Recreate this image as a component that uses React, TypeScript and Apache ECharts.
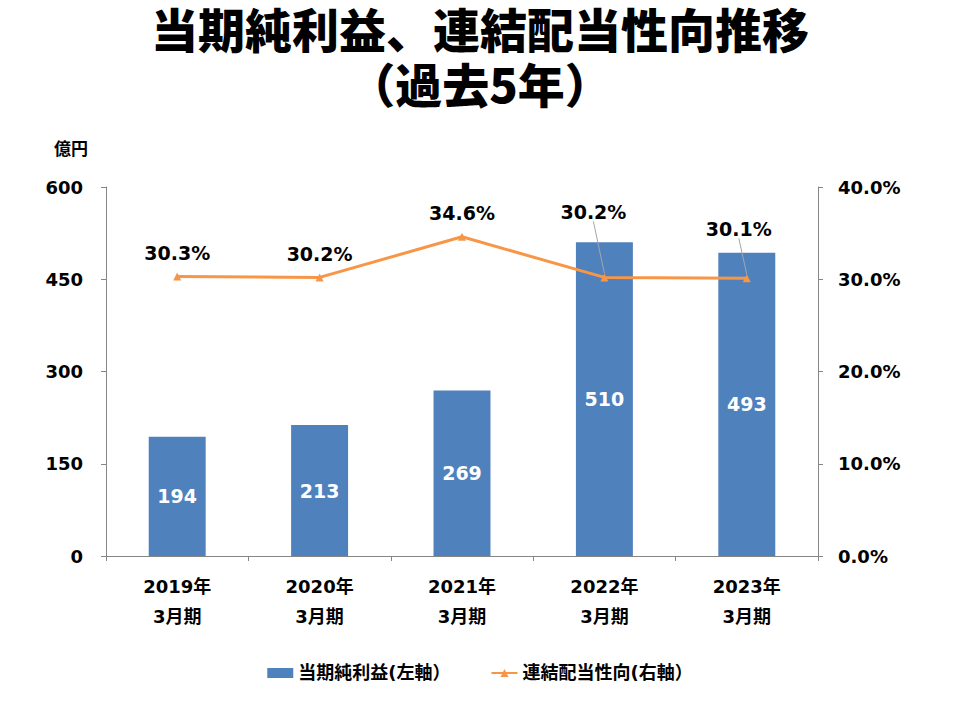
import React, { useEffect, useRef } from "react";
import * as echarts from "echarts";

const titleLines = ["当期純利益、連結配当性向推移", "（過去5年）"];
const categories = ["2019年\n3月期", "2020年\n3月期", "2021年\n3月期", "2022年\n3月期", "2023年\n3月期"];
const netIncome = [194, 213, 269, 510, 493];
const payoutRatio = [30.3, 30.2, 34.6, 30.2, 30.1];
const leftTicks = { min: 0, max: 600, interval: 150 };
const rightTicks = { min: 0, max: 40, interval: 10 };

const FONT = "'DejaVu Sans', 'Noto Sans CJK JP', sans-serif";

export default function App() {
  const ref = useRef<HTMLDivElement>(null);
  useEffect(() => {
    if (!ref.current) return;
    const chart = echarts.init(ref.current, null, { renderer: "svg" });
    const labelShift: Record<number, { dx: number; dy: number }> = {
      3: { dx: -11, dy: -42 },
      4: { dx: -8, dy: -26 },
    };
    const titleStyle = {
      fontFamily: "'Noto Sans CJK JP', sans-serif",
      fontSize: 47,
      fontWeight: 900,
      color: "#000",
      lineHeight: 47,
    };
    chart.setOption({
      animation: false,
      backgroundColor: "#ffffff",
      textStyle: { fontFamily: FONT },
      title: [
        { text: titleLines[0], left: "center", top: 4, padding: 0, textStyle: titleStyle },
        { text: titleLines[1], left: "center", top: 59, padding: 0, textStyle: titleStyle },
      ],
      grid: { left: 106, right: 142, top: 187, bottom: 164 },
      legend: {
        top: 659,
        left: "center",
        itemGap: 40,
        itemWidth: 26,
        itemHeight: 10,
        textStyle: { fontFamily: FONT, fontSize: 18, fontWeight: "bold", color: "#000" },
        data: [
          { name: "当期純利益(左軸）", icon: "rect" },
          { name: "連結配当性向(右軸）" },
        ],
      },
      xAxis: {
        type: "category",
        data: categories,
        axisLine: { lineStyle: { color: "#868686" } },
        axisTick: { show: true, length: 5, lineStyle: { color: "#868686" } },
        axisLabel: {
          fontFamily: FONT,
          fontSize: 18,
          fontWeight: "bold",
          color: "#000",
          lineHeight: 30,
          margin: 15,
        },
      },
      yAxis: [
        {
          type: "value",
          ...leftTicks,
          name: "億円",
          nameLocation: "end",
          nameGap: 30,
          nameTextStyle: { fontFamily: FONT, fontSize: 17, fontWeight: "bold", color: "#000", align: "right", padding: [0, 18, 0, 0] },
          axisLine: { show: true, lineStyle: { color: "#868686" } },
          axisTick: { show: true, length: 5, lineStyle: { color: "#868686" } },
          splitLine: { show: false },
          axisLabel: { fontFamily: FONT, fontSize: 18, fontWeight: "bold", color: "#000", margin: 23 },
        },
        {
          type: "value",
          ...rightTicks,
          position: "right",
          axisLine: { show: true, lineStyle: { color: "#868686" } },
          axisTick: { show: true, length: 5, lineStyle: { color: "#868686" } },
          splitLine: { show: false },
          axisLabel: {
            fontFamily: FONT,
            fontSize: 18,
            fontWeight: "bold",
            color: "#000",
            margin: 20,
            formatter: (v: number) => `${v.toFixed(1)}%`,
          },
        },
      ],
      series: [
        {
          name: "当期純利益(左軸）",
          type: "bar",
          data: netIncome,
          barWidth: "40%",
          itemStyle: { color: "#4F81BD" },
          label: {
            show: true,
            position: "inside",
            color: "#fff",
            fontFamily: FONT,
            fontSize: 19,
            fontWeight: "bold",
          },
        },
        {
          name: "連結配当性向(右軸）",
          type: "line",
          yAxisIndex: 1,
          data: payoutRatio.map((v, i) => ({
            value: v,
            labelLine: { show: labelShift[i] !== undefined },
          })),
          symbol: "triangle",
          symbolSize: 8,
          lineStyle: { color: "#F79646", width: 3 },
          itemStyle: { color: "#F79646" },
          label: {
            show: true,
            position: "top",
            distance: 10,
            color: "#000",
            fontFamily: FONT,
            fontSize: 19,
            fontWeight: "bold",
            formatter: (p: any) => `${Number(p.value).toFixed(1)}%`,
          },
          labelLine: { show: false, lineStyle: { color: "#A6A6A6", width: 1 } },
          labelLayout: (params: any) => {
            const s = labelShift[params.dataIndex];
            return s ? { dx: s.dx, dy: s.dy } : {};
          },
        },
      ],
    });
    return () => chart.dispose();
  }, []);
  return <div ref={ref} style={{ position: "absolute", left: 0, top: 0, width: 960, height: 720 }} />;
}
